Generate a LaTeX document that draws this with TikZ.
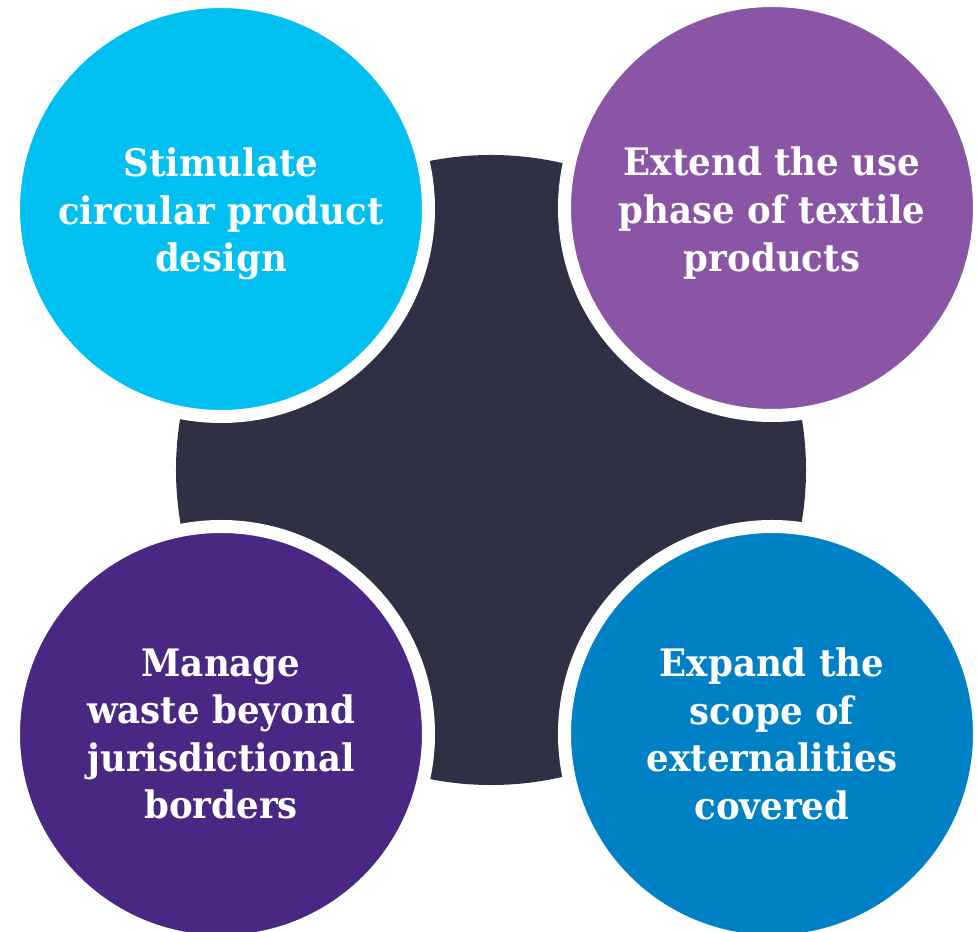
\documentclass[tikz,border=0pt]{standalone}
\usepackage{fontspec}
\setmainfont{DejaVu Serif}[FakeStretch=0.94]
\definecolor{hubgray}{HTML}{303045}
\definecolor{designcyan}{HTML}{00C0F1}
\definecolor{usepurple}{HTML}{8A55A5}
\definecolor{wasteviolet}{HTML}{492883}
\definecolor{scopeblue}{HTML}{0081C6}
\tikzset{
  goal/.style={circle,inner sep=0pt,minimum size=207.5bp,draw=white,line width=6.5bp},
  goaltext/.style={text=white,align=center,inner sep=0pt,font=\bfseries\fontsize{19}{23.9}\selectfont}
}
\begin{document}
\begin{tikzpicture}[x=0.5bp,y=0.5bp]
  \useasboundingbox (0,0) rectangle (978,932);
  \clip (0,0) rectangle (978,932);
  \node[circle,fill=hubgray,inner sep=0pt,minimum size=315bp] (hub) at (491,462) {};
  \node[goal,fill=designcyan] (design) at (221,723) {};
  \node[goal,fill=usepurple] (usephase) at (772,724) {};
  \node[goal,fill=wasteviolet] (waste) at (221,198) {};
  \node[goal,fill=scopeblue] (scope) at (772,198) {};
  % labels
  \node[goaltext] (designtxt) at ([yshift=-2.5bp]design) {Stimulate\\circular product\\design};
  \node[goaltext] (usephasetxt) at ([yshift=-2.5bp]usephase) {Extend the use\\phase of textile\\products};
  \node[goaltext] (wastetxt) at (waste) {Manage\\waste beyond\\jurisdictional\\borders};
  \node[goaltext] (scopetxt) at (scope) {Expand the\\scope of\\externalities\\covered};
\end{tikzpicture}
\end{document}
